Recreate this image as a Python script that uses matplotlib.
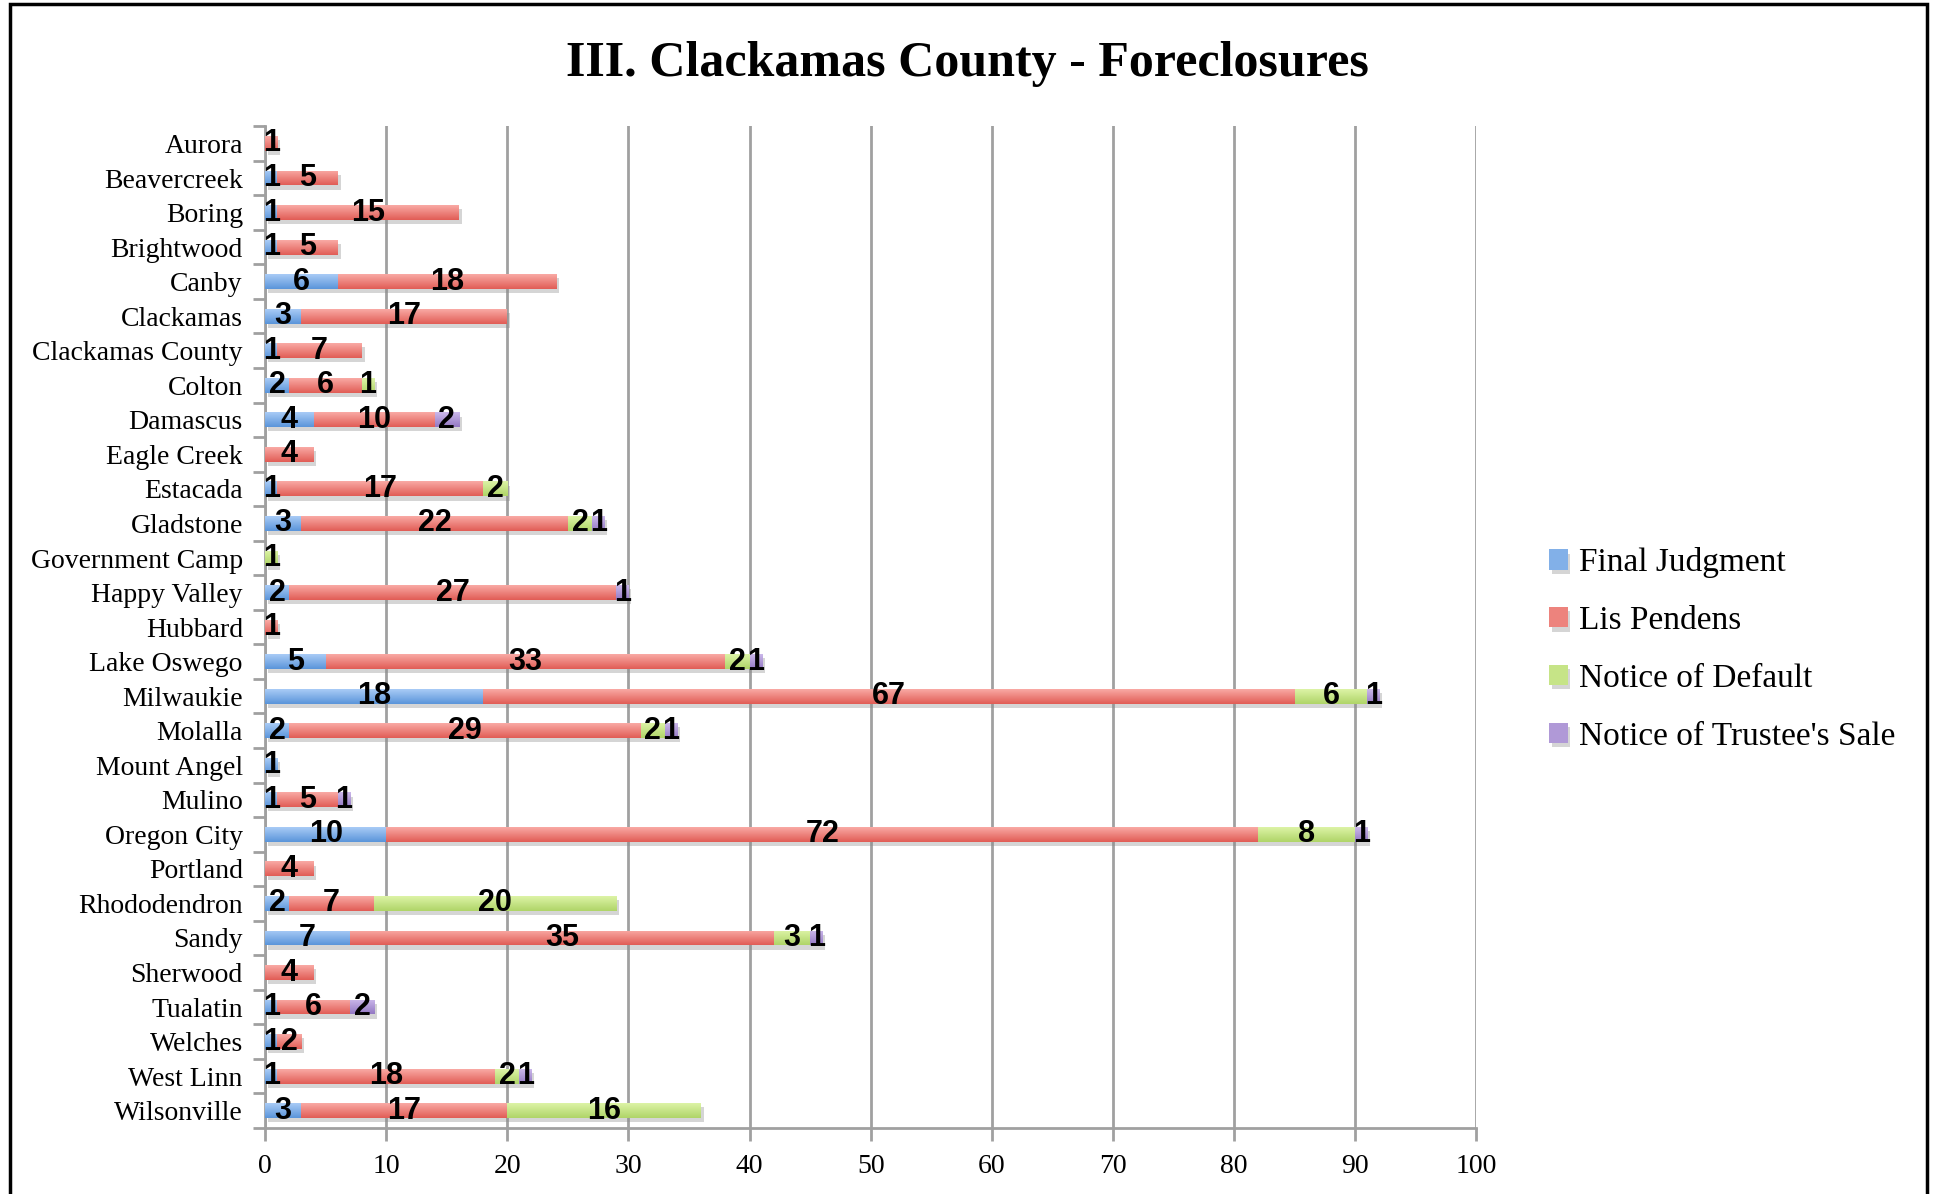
import matplotlib.pyplot as plt
import matplotlib.patheffects as pe
from matplotlib.patches import Rectangle
from matplotlib.colors import to_rgb
import numpy as np

towns = ["Aurora", "Beavercreek", "Boring", "Brightwood", "Canby", "Clackamas",
         "Clackamas County", "Colton", "Damascus", "Eagle Creek", "Estacada",
         "Gladstone", "Government Camp", "Happy Valley", "Hubbard", "Lake Oswego",
         "Milwaukie", "Molalla", "Mount Angel", "Mulino", "Oregon City", "Portland",
         "Rhododendron", "Sandy", "Sherwood", "Tualatin", "Welches", "West Linn",
         "Wilsonville"]
final_judgment = [0, 1, 1, 1, 6, 3, 1, 2, 4, 0, 1, 3, 0, 2, 0, 5, 18, 2, 1, 1, 10, 0, 2, 7, 0, 1, 1, 1, 3]
lis_pendens = [1, 5, 15, 5, 18, 17, 7, 6, 10, 4, 17, 22, 0, 27, 1, 33, 67, 29, 0, 5, 72, 4, 7, 35, 4, 6, 2, 18, 17]
notice_default = [0, 0, 0, 0, 0, 0, 0, 1, 0, 0, 2, 2, 1, 0, 0, 2, 6, 2, 0, 0, 8, 0, 20, 3, 0, 0, 0, 2, 16]
trustee_sale = [0, 0, 0, 0, 0, 0, 0, 0, 2, 0, 0, 1, 0, 1, 0, 1, 1, 1, 0, 1, 1, 0, 0, 1, 0, 2, 0, 1, 0]

# (name, values, top colour, bottom colour)
series = [("Final Judgment", final_judgment, "#a8cbf6", "#5b95da"),
          ("Lis Pendens", lis_pendens, "#f9a9a4", "#e15d56"),
          ("Notice of Default", notice_default, "#dcf3a6", "#b0d568"),
          ("Notice of Trustee's Sale", trustee_sale, "#cbb8ea", "#9479c4")]

serif = "Liberation Serif"
fig = plt.figure(figsize=(19.35, 11.94), dpi=100)
ax = fig.add_axes([0.137, 0.0553, 0.626, 0.839])


def gradient(top, bottom):
    t = np.linspace(0, 1, 32)[:, None]
    a, b = np.array(to_rgb(top)), np.array(to_rgb(bottom))
    return (a * (1 - t) + b * t)[:, None, :].repeat(2, axis=1)


y = np.arange(len(towns))
left = np.zeros(len(towns))
for name, vals, ctop, cbot in series:
    vals = np.array(vals, dtype=float)
    mid = tuple((np.array(to_rgb(ctop)) + np.array(to_rgb(cbot))) / 2)
    bars = ax.barh(y, vals, left=left, height=0.43, color=mid, label=name, zorder=3,
                   path_effects=[pe.SimplePatchShadow(offset=(2, -3), shadow_rgbFace="#888888", alpha=0.35),
                                 pe.Normal()])
    img = gradient(ctop, cbot)
    for p in bars.patches:
        if p.get_width() <= 0:
            continue
        x0, y0 = p.get_x(), p.get_y()
        im = ax.imshow(img, extent=(x0, x0 + p.get_width(), y0 + p.get_height(), y0),
                       aspect="auto", zorder=3.5, interpolation="bilinear")
        im.set_clip_path(p)
    ax.bar_label(bars, labels=[str(int(v)) if v > 0 else "" for v in vals],
                 label_type="center", fontsize=22, fontweight="bold",
                 family="Liberation Sans", color="black", zorder=5)
    left += vals

ax.set_xlim(0, 100)
ax.set_ylim(len(towns) - 0.5, -0.5)
ax.set_aspect("auto")
ax.set_xticks(np.arange(0, 101, 10))
ax.set_xticklabels([str(v) for v in range(0, 101, 10)], family=serif, fontsize=20)
ax.set_yticks(y)
ax.set_yticklabels(towns, family=serif, fontsize=20)
ax.set_yticks(np.arange(-0.5, len(towns)), minor=True)
ax.tick_params(axis="y", which="major", length=0, pad=16)
ax.tick_params(axis="y", which="minor", length=9, color="#a0a0a0", width=2)
ax.tick_params(axis="x", length=9, color="#a0a0a0", width=2, pad=10)
ax.grid(axis="x", color="#a0a0a0", linewidth=2, zorder=0)
for s in ["top", "right"]:
    ax.spines[s].set_visible(False)
for s in ["left", "bottom"]:
    ax.spines[s].set_color("#a0a0a0")
    ax.spines[s].set_linewidth(2)

ax.legend(loc="center left", bbox_to_anchor=(0.792, 0.456), bbox_transform=fig.transFigure,
          frameon=False, borderpad=0, prop={"family": serif, "size": 24},
          handlelength=0.55, handleheight=0.55, handletextpad=0.35, labelspacing=0.82)

fig.text(0.5, 0.946, "III. Clackamas County - Foreclosures", ha="center", va="center",
         family=serif, fontweight="bold", fontsize=36)

fig.patches.append(Rectangle((0.005, -0.05), 0.991, 1.047, transform=fig.transFigure,
                             fill=False, edgecolor="black", linewidth=2.5))

fig.savefig("out.png", dpi=100)
